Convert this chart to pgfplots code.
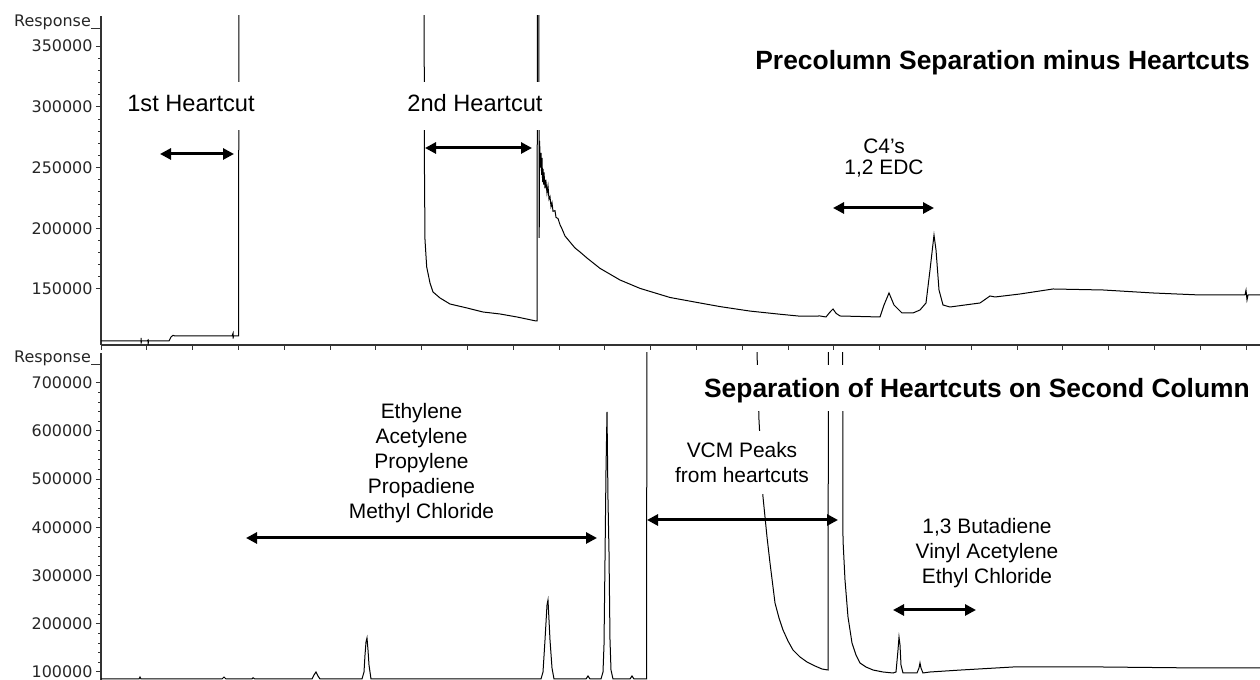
\documentclass[border=0pt]{standalone}
\usepackage{fontspec}
\setmainfont{Liberation Sans}
\newfontfamily\dejavu{DejaVu Sans}
\usepackage{pgfplots}
\pgfplotsset{compat=1.18}
\usetikzlibrary{arrows.meta}

\begin{document}
\begin{tikzpicture}[x=1bp,y=1bp]
\useasboundingbox (0,0) rectangle (1260,680);
\pgfplotsset{
  chrom/.style={
    scale only axis, width=1159bp, xmin=101, xmax=1260,
    axis line style={line width=1.2bp, black!80, -},
    tick style={line width=1bp, black!80},
    tick align=outside,
    major tick length=5bp, minor tick length=3bp,
    scaled y ticks=false, scaled x ticks=false,
    yticklabel style={font=\dejavu\fontsize{16}{17}\selectfont, black!85},
    /pgf/number format/fixed, /pgf/number format/1000 sep={},
    /pgf/number format/assume math mode=true,
  }
}
% ---------------- upper panel ----------------
\begin{axis}[chrom, at={(101bp,335bp)}, anchor=south west, height=329bp,
  ymin=103870, ymax=374870,
  axis x line*=bottom, axis y line*=left,
  ytick={150000,200000,250000,300000,350000}, minor y tick num=4,
  xtick={101,146.8,...,1260}, xticklabels={}]
\addplot[black, line width=1bp, mark=none] coordinates {
(101,107170) (139,107170) (141,107170) (141,109800) (141,105100) (141.5,107170)
(147,107170) (148,108000) (148,103900) (148.5,107170) (169,107170) (171,110500)
(173,111800) (175,111290) (232,111290) (233,113400) (233,109200) (233.5,111290)
(238.5,111290) (239,420000) (424,420000) (424.5,243100) (425,190360) (426.7,168120)
(430,154940) (433,147530) (440,142590) (450,137640) (467,134350) (483,131050)
(500,129410) (517,126940) (536,123640) (537,123640) (537.5,420000) (538.8,420000)
(539.2,192010) (539.6,271900) (540.3,250000) (541,262000) (541.6,244000) (542,257900)
(542.6,238000) (543,249000) (543.6,236000) (544,246000) (545,233000) (545.8,240000)
(547,229000) (548,234840) (549,224000) (550,226000) (551,218000) (552,221000)
(553,214000) (555,214500) (556,209000) (558,208000) (560,203000) (562,199500)
(565,193660) (570,188710) (575,183770) (580,180480) (587,175500) (600,167000)
(620,157410) (640,150500) (670,143000) (700,138470) (720,135500) (750,131800)
(780,129200) (800,127600) (820,127760) (826,126940) (830,131000) (833,133530)
(836,130000) (840,127760) (880,126940) (884,136820) (889,146710) (894,136820)
(902,130230) (913,130230) (920,132700) (926,138470) (930,165650) (934,194480)
(936,182120) (939,149180) (943,136820) (950,135170) (980,138470) (990,144230)
(995,143410) (1020,145880) (1053,150000) (1103,149180) (1153,146710) (1200,145060)
(1245,145060) (1246,149000) (1247,141000) (1248,145060) (1260,145060)
};
\end{axis}
% ---------------- lower panel ----------------
\begin{axis}[chrom, at={(101bp,0bp)}, anchor=south west, height=327bp,
  ymin=83400, ymax=761830,
  axis y line*=left, axis x line=none,
  ytick={100000,200000,300000,400000,500000,600000,700000}, minor y tick num=4]
\addplot[black, line width=1bp, mark=none] coordinates {
(101,85480) (139,85480) (140,89600) (141,85480) (222,85480) (224,89600) (226,85480)
(252,85480) (253,88000) (255,85480) (312,85480) (314,93800) (316,100000) (318,91700)
(320,85480) (362,85480) (364,100000) (365,135270) (366,162240) (367,170540)
(368,145640) (369,114520) (371,85480) (541,85480) (543,100000) (545,166390)
(547,239000) (548,249380) (549,207880) (550,166390) (552,108300) (554,85480)
(586,85480) (588,91700) (590,85480) (601,85480) (603,100000) (604,156000)
(605,332370) (606,519090) (607,639420) (608,456850) (609,348960) (610,166390)
(611,104150) (613,85480) (630,85480) (632,91700) (634,85480) (646.5,85480)
(647,900000) (756,900000) (757,763900) (759,622820) (763,463070) (767,380080)
(770,326140) (775,243150) (779,212030) (783,187140) (788,164320) (793,145640)
(800,131120) (807,120750) (815,112450) (822,106220) (828,104150) (828.5,900000)
(842.5,900000) (843,373860) (845,290870) (848,214110) (852,160170) (856,135270)
(860,118670) (866,110370) (873,104150) (883,100000) (893,97930) (896,100000)
(898,145640) (899,172610) (900,156000) (901,114520) (903,97930) (917,97930)
(919,108300) (920,118670) (921,108300) (923,97930) (930,100000) (960,104000)
(1013,110370) (1103,110370) (1200,108300) (1260,108300)
};
\end{axis}
% ---------------- annotations ----------------
\tikzset{
  dbl/.style={line width=3bp, {Triangle[length=11bp,width=11bp]}-{Triangle[length=11bp,width=11bp]}},
  lab/.style={font=\fontsize{21}{25}\selectfont, align=center, fill=white, inner xsep=2bp, inner ysep=4bp},
  hc/.style={fill=white, font=\fontsize{23.7}{28}\selectfont, text height=17bp, text depth=5bp, inner ysep=13bp, inner xsep=2bp}
}
\node[anchor=base east, font=\dejavu\fontsize{16}{17}\selectfont, inner sep=0pt, black!85] at (91,653) {Response};
\draw[line width=1bp, black!80] (91,651) -- (101,651);
\node[anchor=base east, font=\dejavu\fontsize{16}{17}\selectfont, inner sep=0pt, black!85] at (91,317) {Response};
\draw[line width=1bp, black!80] (91,315) -- (101,315);

\node[hc] at (191,574) {1st Heartcut};
\node[hc] at (475,574) {2nd Heartcut};
\draw[dbl] (160,526) -- (234,526);
\draw[dbl] (425,532) -- (532,532);
\node[font=\fontsize{21}{21.5}\selectfont, align=center] at (884,522) {C4’s\\1,2 EDC};
\draw[dbl] (833,472) -- (934,472);
\node[anchor=base east, font=\bfseries\fontsize{26.5}{30}\selectfont, inner sep=0pt] at (1250,610.5) {Precolumn Separation minus Heartcuts};

\node[anchor=east, fill=white, font=\bfseries\fontsize{26.5}{30}\selectfont, text height=22bp, text depth=4bp, inner ysep=10bp, inner xsep=0pt] at (1250,291.5) {Separation of Heartcuts on Second Column};
\node[lab] at (421.5,217) {Ethylene\\Acetylene\\Propylene\\Propadiene\\Methyl Chloride};
\draw[dbl] (246,142) -- (597,142);
\node[lab, inner ysep=11bp] at (742,217.5) {VCM Peaks\\from heartcuts};
\draw[dbl] (647,160) -- (838,160);
\node[lab] at (987,127) {1,3 Butadiene\\Vinyl Acetylene\\Ethyl Chloride};
\draw[dbl] (893,70) -- (976,70);
\end{tikzpicture}
\end{document}
